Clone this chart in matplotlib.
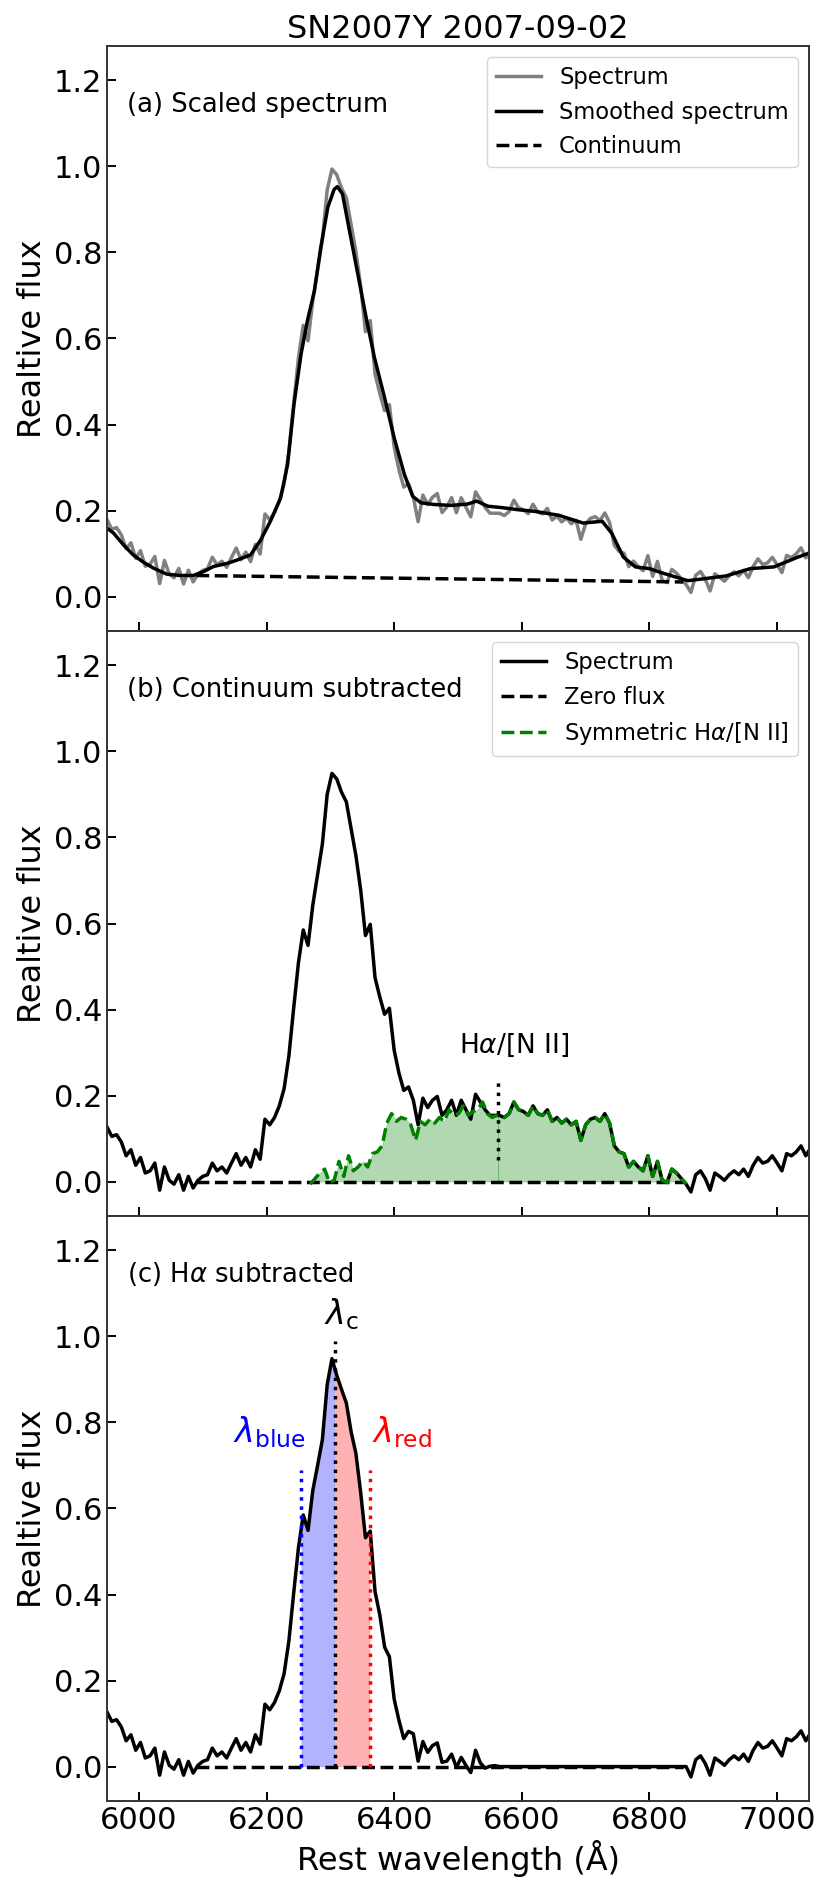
import numpy as np
import matplotlib
matplotlib.use("Agg")
import matplotlib.pyplot as plt

# ---------------- data ----------------
title = "SN2007Y 2007-09-02"
wave_start, wave_step, n_pix = 5950.0, 7.5, 148
# continuum-subtracted spectrum (panel b)
flux_sub = [
    0.127, 0.105, 0.109, 0.092, 0.060, 0.074, 0.038, 0.056, 0.020, 0.025,
    0.043, -0.020, 0.034, 0.003, -0.006, 0.016, -0.020, 0.012, -0.015, 0.003,
    0.012, 0.016, 0.043, 0.025, 0.034, 0.020, 0.043, 0.065, 0.038, 0.056,
    0.034, 0.074, 0.052, 0.145, 0.132, 0.149, 0.176, 0.216, 0.292, 0.403,
    0.509, 0.585, 0.549, 0.643, 0.714, 0.785, 0.900, 0.949, 0.936, 0.905,
    0.883, 0.820, 0.758, 0.678, 0.572, 0.598, 0.474, 0.429, 0.389, 0.403,
    0.305, 0.252, 0.212, 0.220, 0.189, 0.132, 0.194, 0.172, 0.189, 0.198,
    0.154, 0.167, 0.189, 0.154, 0.189, 0.167, 0.145, 0.203, 0.185, 0.167,
    0.154, 0.154, 0.154, 0.149, 0.158, 0.185, 0.167, 0.163, 0.154, 0.176,
    0.158, 0.154, 0.167, 0.140, 0.149, 0.136, 0.145, 0.132, 0.140, 0.096,
    0.132, 0.145, 0.149, 0.140, 0.158, 0.136, 0.083, 0.069, 0.065, 0.034,
    0.047, 0.034, 0.025, 0.060, 0.012, 0.047, 0.003, -0.002, 0.029, 0.020,
    0.007, -0.006, -0.024, 0.016, 0.025, 0.007, -0.020, 0.020, 0.012, 0.003,
    0.016, 0.025, 0.016, 0.029, 0.012, 0.038, 0.056, 0.043, 0.047, 0.060,
    0.043, 0.025, 0.065, 0.060, 0.069, 0.083, 0.060, 0.078,
]
# continuum anchor points (linear)
cont_wave = [6090.0, 6853.0]
cont_flux = [0.049, 0.034]
# smoothed spectrum (panel a)
smooth_wave = [5950, 5960, 5976, 5991, 6007, 6023, 6044, 6065, 6085, 6101, 6117,
               6138, 6154, 6175, 6191, 6206, 6222, 6233, 6243, 6254, 6264, 6275,
               6285, 6296, 6306, 6311, 6319, 6330, 6343, 6356, 6369, 6385, 6400,
               6416, 6429, 6442, 6463, 6489, 6515, 6529, 6547, 6568, 6594, 6621,
               6658, 6696, 6726, 6741, 6759, 6778, 6800, 6820, 6840, 6860, 6883,
               6920, 6958, 6995, 7033, 7050]
smooth_flux = [0.159, 0.148, 0.120, 0.097, 0.080, 0.066, 0.052, 0.049, 0.049, 0.058,
               0.070, 0.077, 0.085, 0.097, 0.132, 0.175, 0.229, 0.307, 0.447, 0.563,
               0.641, 0.711, 0.812, 0.905, 0.947, 0.953, 0.936, 0.850, 0.750, 0.649,
               0.556, 0.462, 0.369, 0.284, 0.233, 0.218, 0.214, 0.212, 0.215, 0.222,
               0.210, 0.207, 0.202, 0.198, 0.189, 0.171, 0.175, 0.147, 0.092, 0.069,
               0.065, 0.055, 0.046, 0.037, 0.041, 0.048, 0.065, 0.069, 0.092, 0.101]
halpha_center = 6563.0
sym_halfwidth = 300.0
lam_blue, lam_c, lam_red = 6254.0, 6307.0, 6362.0

# ---------------- derived ----------------
wave = wave_start + wave_step * np.arange(n_pix)
flux_sub = np.array(flux_sub)
cpoly = np.polyfit(cont_wave, cont_flux, 1)
cont_full = np.polyval(cpoly, wave)
flux_raw = flux_sub + cont_full

# symmetric H-alpha/[N II] profile: red half mirrored onto blue side
rmask = (wave > halpha_center) & (wave <= halpha_center + sym_halfwidth)
rw = np.concatenate([[halpha_center], wave[rmask]])
rf = np.concatenate([[np.interp(halpha_center, wave, flux_sub)], flux_sub[rmask]])
lw_ = 2 * halpha_center - rw[::-1]
lf_ = rf[::-1]
sym_wave = np.concatenate([lw_, rw[1:]])
sym_flux = np.concatenate([lf_, rf[1:]])

inside = (wave >= sym_wave[0]) & (wave <= sym_wave[-1])
flux_hsub = flux_sub - np.where(inside, np.interp(wave, sym_wave, sym_flux), 0.0)

# ---------------- plot ----------------
LW = 2.5
fig = plt.figure(figsize=(8.3, 18.95), dpi=100)
axes = fig.subplots(3, 1, sharex=True)
fig.subplots_adjust(left=107/830, right=809/830, top=1-46/1895, bottom=1-1801/1895, hspace=0)

for ax in axes:
    ax.set_xlim(5950, 7050)
    ax.set_ylim(-0.08, 1.28)
    ax.set_yticks(np.arange(0, 1.21, 0.2))
    ax.set_xticks(np.arange(6000, 7001, 200))
    ax.yaxis.set_major_formatter(matplotlib.ticker.FormatStrFormatter('%.1f'))
    ax.tick_params(direction='in', length=6.7, width=1.4, labelsize=22,
                   top=False, right=False)
    for s in ax.spines.values():
        s.set_linewidth(1.4)
        s.set_color('#333333')
    ax.set_ylabel('Realtive flux', fontsize=23)

# panel a
ax = axes[0]
ax.plot(wave, flux_raw, color='gray', lw=LW, label='Spectrum')
ax.plot(smooth_wave, smooth_flux, color='black', lw=LW, label='Smoothed spectrum')
ax.plot(cont_wave, cont_flux, color='black', ls='--', lw=LW, label='Continuum')
ax.text(0.029, 0.888, '(a) Scaled spectrum', transform=ax.transAxes, fontsize=18.6,
        va='baseline')
ax.legend(loc='upper right', fontsize=16.3)
ax.set_title(title, fontsize=23)

# panel b
ax = axes[1]
ax.plot(wave, flux_sub, color='black', lw=LW, label='Spectrum')
ax.plot(cont_wave, [0, 0], color='black', ls='--', lw=LW, label='Zero flux')
ax.plot(sym_wave, sym_flux, color='green', ls='--', lw=LW,
        label=r'Symmetric H$\alpha$/[N II]')
ax.fill_between(lw_, lf_, 0, color='green', alpha=0.3, lw=0.5)
ax.fill_between(rw, rf, 0, color='green', alpha=0.3, lw=0.5)
ax.plot([halpha_center, halpha_center], [0.05, 0.24], color='black', ls=':', lw=2.5)
ax.text(6588, 0.30, r'H$\alpha$/[N II]', fontsize=19, ha='center', va='baseline')
ax.text(0.029, 0.888, '(b) Continuum subtracted', transform=ax.transAxes, fontsize=18.6,
        va='baseline')
ax.legend(loc='upper right', fontsize=16.3)

# panel c
ax = axes[2]
ax.plot(wave, flux_hsub, color='black', lw=LW)
ax.plot(cont_wave, [0, 0], color='black', ls='--', lw=LW)
xb = np.linspace(lam_blue, lam_c, 80)
ax.fill_between(xb, np.interp(xb, wave, flux_hsub), 0, color='blue', alpha=0.3, lw=0)
xr = np.linspace(lam_c, lam_red, 80)
ax.fill_between(xr, np.interp(xr, wave, flux_hsub), 0, color='red', alpha=0.3, lw=0)
ax.plot([lam_blue, lam_blue], [0, 0.69], color='blue', ls=':', lw=2.5)
ax.plot([lam_red, lam_red], [0, 0.69], color='red', ls=':', lw=2.5)
ax.plot([lam_c, lam_c], [0, 0.99], color='black', ls=':', lw=2.5)
ax.text(lam_blue + 7, 0.755, r'$\lambda_{\rm blue}$', color='blue', fontsize=24,
        ha='right', va='baseline')
ax.text(lam_red + 3, 0.755, r'$\lambda_{\rm red}$', color='red', fontsize=24,
        ha='left', va='baseline')
ax.text(lam_c + 10, 1.028, r'$\lambda_{\rm c}$', color='black', fontsize=24,
        ha='center', va='baseline')
ax.text(0.029, 0.888, r'(c) H$\alpha$ subtracted', transform=ax.transAxes, fontsize=18.6,
        va='baseline')
ax.set_xlabel('Rest wavelength (Å)', fontsize=23)

fig.savefig('out.png', dpi=100)
